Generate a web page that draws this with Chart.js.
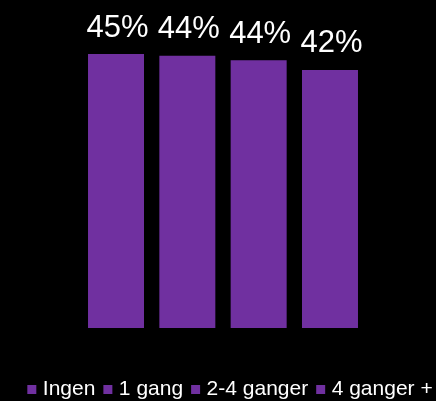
<!DOCTYPE html>
<html>
<head>
<meta charset="utf-8">
<script src="https://cdn.jsdelivr.net/npm/chart.js@4"></script>
<style>
  html, body { margin: 0; padding: 0; background: #000; overflow: hidden; }
  #wrap { width: 464px; height: 410px; position: relative; }
</style>
</head>
<body>
<div id="wrap"><canvas id="c"></canvas></div>
<script>
const categories = ['Ingen', '1 gang', '2-4 ganger', '4 ganger +'];
const values = [44.6, 44.3, 43.6, 42.0];
const barColor = '#7030A0';
const fontFamily = '"Liberation Sans", Arial, Helvetica, sans-serif';

const valueLabels = {
  id: 'valueLabels',
  afterDatasetsDraw(chart) {
    const ctx = chart.ctx;
    ctx.save();
    ctx.fillStyle = '#ffffff';
    ctx.font = '31px ' + fontFamily;
    ctx.textAlign = 'center';
    ctx.textBaseline = 'alphabetic';
    chart.data.datasets.forEach((ds, i) => {
      const meta = chart.getDatasetMeta(i);
      meta.data.forEach((bar, j) => {
        ctx.fillText(Math.round(ds.data[j]) + '%', bar.x + 1.5, bar.y - 17.5);
      });
    });
    ctx.restore();
  }
};

new Chart(document.getElementById('c'), {
  type: 'bar',
  data: {
    labels: [''],
    datasets: categories.map((name, i) => ({
      label: name,
      data: [values[i]],
      backgroundColor: barColor,
      borderWidth: 0
    }))
  },
  options: {
    responsive: true,
    maintainAspectRatio: false,
    animation: false,
    devicePixelRatio: 1,
    categoryPercentage: 0.6397,
    barPercentage: 0.785,
    layout: { padding: 0 },
    plugins: {
      legend: {
        display: true,
        position: 'bottom',
        labels: {
          color: '#ffffff',
          font: { size: 21, family: fontFamily },
          usePointStyle: true,
          pointStyle: 'rect',
          pointStyleWidth: 1,
          boxWidth: 1,
          boxHeight: 1,
          padding: 12,
          generateLabels(chart) {
            return Chart.defaults.plugins.legend.labels.generateLabels(chart).map(l => ({
              ...l, pointStyle: 'rect', fillStyle: barColor, strokeStyle: barColor, lineWidth: 8
            }));
          }
        }
      },
      tooltip: { enabled: false }
    },
    scales: {
      x: { display: false },
      y: {
        position: 'right',
        min: -6.348,
        max: 53.39,
        grid: { display: false },
        border: { display: false },
        ticks: { display: false },
        afterFit(axis) { axis.width = 18; }
      }
    }
  },
  plugins: [valueLabels]
});
</script>
</body>
</html>
